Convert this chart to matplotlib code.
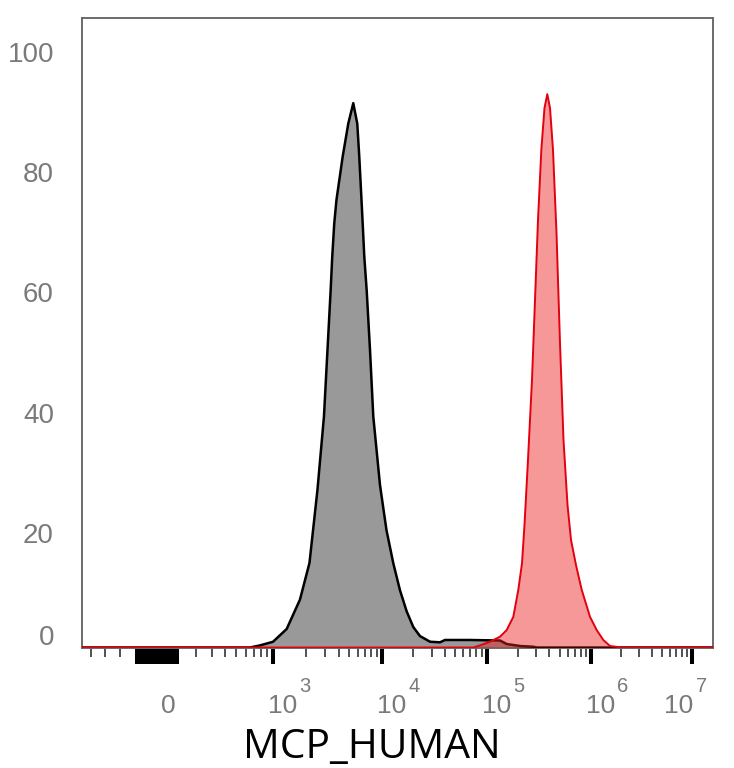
import numpy as np
import matplotlib
matplotlib.use("Agg")
import matplotlib.pyplot as plt
from matplotlib.ticker import FixedLocator, NullFormatter
from matplotlib.transforms import blended_transform_factory, ScaledTranslation

# ---------------- data ----------------
# fluorescence intensity (MCP_HUMAN) vs. % of max
gray_x = [650, 784, 1000, 1336, 1769, 2163, 2560, 2937, 3383, 3499, 3650, 3824,
          4360, 4908, 5454, 5934, 6190, 6417, 6652, 6880, 7237, 7762, 8321, 9587,
          11040, 12830, 14870, 17230, 19930, 23100, 28800, 35890, 40080, 69520,
          134700, 156100, 209200, 278600, 304300]
gray_y = [0, 0.35, 0.95, 3.08, 7.96, 14.05, 26.2, 38.4, 59.4, 65.0, 70.5, 74.4,
          81.6, 87.1, 90.5, 87.1, 81.6, 76.1, 70.5, 65.0, 59.4, 49.5, 38.4, 27.0,
          19.5, 14.0, 9.5, 6.0, 3.4, 1.9, 0.96, 0.86, 1.25, 1.25,
          1.16, 0.58, 0.25, 0.13, 0]

red_x = [74760, 86650, 108000, 134700, 156100, 180500, 201600, 218600, 231000,
         249500, 272500, 291200, 311100, 334600, 358900, 381800, 405300, 432900,
         467700, 505100, 545600, 596000, 643600, 718600, 814700, 978100, 1139000,
         1324000, 1542000, 2014000]
red_y = [0, 0.35, 0.96, 1.8, 2.9, 5.1, 9.6, 14.0, 20.4, 31.2, 44.5, 57.8, 71.1,
         82.7, 89.7, 92.0, 89.7, 82.7, 68.9, 50.6, 34.5, 23.7, 17.9, 13.7, 9.6,
         5.1, 2.9, 1.25, 0.25, 0]

y_ticks = [0, 20, 40, 60, 80, 100]
x_decades = [3, 4, 5, 6, 7]
x_label = "MCP_HUMAN"

# ---------------- biexponential-like axis (scale definition) ----------------
KNOT_X = np.array([-465, -400, -300, -200, -100, 0, 100, 200, 300, 400, 500,
                   1e3, 1e4, 1e5, 1e6, 1e7, 1.6e7])
KNOT_P = np.array([82, 91, 105, 120, 137, 157, 177, 196, 212, 225, 236,
                   273, 382, 486.5, 591, 692, 713], dtype=float)
KV = np.arcsinh(KNOT_X / 100.0)


def fwd(x):
    return np.interp(np.arcsinh(np.asarray(x, dtype=float) / 100.0), KV, KNOT_P)


def inv(p):
    return 100.0 * np.sinh(np.interp(np.asarray(p, dtype=float), KNOT_P, KV))


X_MIN, X_MAX = -465, 1.6e7

W, H = 734, 768
fig = plt.figure(figsize=(W / 100, H / 100), dpi=100)
L, R, T, B = 82, 713, 18, 647.5
ax = fig.add_axes([L / W, 1 - B / H, (R - L) / W, (B - T) / H])
ax.set_xscale("function", functions=(fwd, inv))
ax.set_xlim(X_MIN, X_MAX)
PX_PER_UNIT = 6.015
ax.set_ylim(0, (B - T) / PX_PER_UNIT)

gx = [X_MIN] + gray_x + [X_MAX]
gy = [0] + gray_y + [0]
rx = [X_MIN] + red_x + [X_MAX]
ry = [0] + red_y + [0]

ax.fill_between(gx, 0, gy, facecolor="#999999", edgecolor="none", zorder=2)
ax.plot(gx, gy, color="black", lw=1.8, zorder=3, solid_joinstyle="round")
ax.fill_between(rx, 0, ry, facecolor="#ee1c1c", alpha=0.45, edgecolor="none", zorder=4)
ax.plot(rx, ry, color="#e3000f", lw=1.4, zorder=5, solid_joinstyle="round")

for s in ax.spines.values():
    s.set_color("#6a6a6a")
    s.set_linewidth(1.4)

major = list(range(-100, 101, 10)) + [10.0 ** d for d in x_decades]
minor = [-400, -300, -200] + [k * 100 for k in range(2, 10)]
for d in x_decades[:-1]:
    minor += [k * 10.0 ** d for k in range(2, 10)]
ax.xaxis.set_major_locator(FixedLocator(major))
ax.xaxis.set_minor_locator(FixedLocator(minor))
ax.xaxis.set_major_formatter(NullFormatter())
ax.xaxis.set_minor_formatter(NullFormatter())
ax.tick_params(axis="x", which="major", direction="out", length=11.5, width=2.9,
               color="black", top=False)
ax.tick_params(axis="x", which="minor", direction="out", length=6.3, width=1.1,
               color="#222222", top=False)
ax.tick_params(axis="y", which="both", length=0, labelleft=False)

FONT = ["Liberation Sans", "DejaVu Sans"]
LBL = "#7a7a7a"


def off(dx, dy):
    return ScaledTranslation(dx / 100.0, -dy / 100.0, fig.dpi_scale_trans)


xb = blended_transform_factory(ax.transData, ax.transAxes)
yb = blended_transform_factory(ax.transAxes, ax.transData)

ax.text(0, 0, "0", transform=xb + off(3.6, 65.8), ha="left", va="baseline",
        fontsize=19, color=LBL, family=FONT, clip_on=False)
for d in x_decades:
    dx10, dxe = (-5, 26.5) if d != x_decades[-1] else (-28, 4)
    ax.text(10.0 ** d, 0, "10", transform=xb + off(dx10, 65.5), ha="left",
            va="baseline", fontsize=19, color=LBL, family=FONT, clip_on=False)
    ax.text(10.0 ** d, 0, str(d), transform=xb + off(dxe, 45.0), ha="left",
            va="baseline", fontsize=14.5, color=LBL, family=FONT, clip_on=False)

for v in y_ticks:
    dy = 15.7 if v != 0 else -2.5
    ax.text(0, v, str(v), transform=yb + off(-28, dy), ha="right", va="baseline",
            fontsize=20, color=LBL, family=FONT, clip_on=False)

fig.text(371.5 / W, 1 - 757.5 / H, x_label, ha="center", va="baseline",
         fontsize=29.3, color="black", family=["Open Sans", "DejaVu Sans"])

fig.savefig("out.png", dpi=100)
